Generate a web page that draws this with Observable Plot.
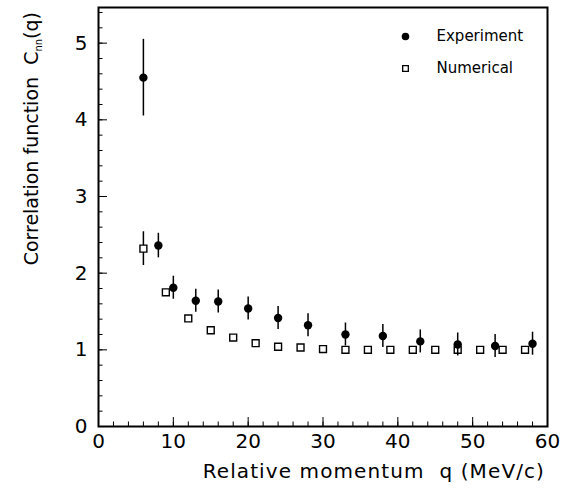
<!DOCTYPE html>
<html>
<head>
<meta charset="utf-8">
<script src="https://cdn.jsdelivr.net/npm/d3@7"></script>
<script src="https://cdn.jsdelivr.net/npm/@observablehq/plot@0.6"></script>
<style>
  body { margin: 0; background: #fff; }
  #chart svg { display: block; }
</style>
</head>
<body>
<div id="chart"></div>
<script>
// Experiment (filled circles)
const expQ   = [6, 8, 10, 13, 16, 20, 24, 28, 33, 38, 43, 48, 53, 58];
const expC   = [4.55, 2.36, 1.81, 1.64, 1.63, 1.54, 1.415, 1.32, 1.20, 1.18, 1.11, 1.07, 1.05, 1.08];
const expErr = [0.50, 0.16, 0.15, 0.15, 0.15, 0.15, 0.15, 0.15, 0.15, 0.15, 0.15, 0.15, 0.15, 0.15];

// Numerical (open squares)
const numQ   = [6, 9, 12, 15, 18, 21, 24, 27, 30, 33, 36, 39, 42, 45, 48, 51, 54, 57];
const numC   = [2.32, 1.75, 1.41, 1.255, 1.16, 1.087, 1.04, 1.03, 1.01, 1.0, 1.0, 1.0, 1.0, 1.0, 1.0, 1.0, 1.0, 1.0];
const numErr = [0.22, 0, 0, 0, 0, 0, 0, 0, 0, 0, 0, 0, 0, 0, 0, 0, 0, 0];

const xMajor = [0, 10, 20, 30, 40, 50, 60];
const xMinor = d3.range(0, 61, 2);
const yMajor = [0, 1, 2, 3, 4, 5];
const yMinor = d3.range(0, 5.41, 0.2);

const legendNames = ["Experiment", "Numerical"];
const xTitle = "Relative momentum  q (MeV/c)";

const exp = expQ.map((q, i) => ({q, c: expC[i], e: expErr[i]}));
const num = numQ.map((q, i) => ({q, c: numC[i], e: numErr[i]}));
const numWithErr = num.filter(d => d.e > 0);

const W = 576, H = 493;
const mL = 98, mR = 29, mT = 7, mB = 67;
const pw = W - mL - mR, ph = H - mT - mB;
const font = "'DejaVu Sans', sans-serif";

const chart = Plot.plot({
  width: W,
  height: H,
  marginLeft: mL,
  marginRight: mR,
  marginTop: mT,
  marginBottom: mB,
  style: {fontFamily: font, background: "#fff", color: "#000"},
  x: {domain: [0, 60]},
  y: {domain: [0, 5.465]},
  marks: [
    Plot.tickX(xMinor, {x: d => d, insetTop: ph - 4.5, stroke: "#000", strokeWidth: 1}),
    Plot.tickX(xMajor, {x: d => d, insetTop: ph - 9, stroke: "#000", strokeWidth: 1}),
    Plot.tickY(yMinor, {y: d => d, insetRight: pw - 4.5, stroke: "#000", strokeWidth: 1}),
    Plot.tickY(yMajor, {y: d => d, insetRight: pw - 9, stroke: "#000", strokeWidth: 1}),
    Plot.axisX({ticks: xMajor, tickSize: 0, tickPadding: 7, fontSize: 20, label: null, tickFormat: d3.format("d")}),
    Plot.axisY({ticks: yMajor, tickSize: 0, tickPadding: 11, fontSize: 20, label: null, tickFormat: d3.format("d")}),
    Plot.ruleX(numWithErr, {x: "q", y1: d => d.c - d.e, y2: d => d.c + d.e, stroke: "#000", strokeWidth: 1.5}),
    Plot.dot(num, {x: "q", y: "c", symbol: "square", r: 3.9, fill: "#fff", stroke: "#000", strokeWidth: 1.4}),
    Plot.ruleX(exp, {x: "q", y1: d => d.c - d.e, y2: d => d.c + d.e, stroke: "#000", strokeWidth: 1.5}),
    Plot.dot(exp, {x: "q", y: "c", r: 4.2, fill: "#000", stroke: "none"}),
    // legend
    Plot.dot([legendNames[0]], {frameAnchor: "top-left", dx: 405 - mL, dy: 36 - mT, r: 3.8, fill: "#000"}),
    Plot.dot([legendNames[1]], {frameAnchor: "top-left", dx: 405 - mL, dy: 68 - mT, symbol: "square", r: 3.2, fill: "#fff", stroke: "#000", strokeWidth: 1.3}),
    Plot.text([legendNames[0]], {frameAnchor: "top-left", text: d => d, dx: 436 - mL, dy: 36 - mT, textAnchor: "start", lineAnchor: "middle", fontSize: 15, fill: "#000"}),
    Plot.text([legendNames[1]], {frameAnchor: "top-left", text: d => d, dx: 436 - mL, dy: 68 - mT, textAnchor: "start", lineAnchor: "middle", fontSize: 15, fill: "#000"}),
    Plot.frame({stroke: "#000", strokeWidth: 2})
  ]
});

document.getElementById("chart").appendChild(chart);

const svg = d3.select(chart);

svg.append("text")
  .attr("x", 545).attr("y", 478)
  .attr("text-anchor", "end")
  .attr("font-family", font).attr("font-size", 20).attr("fill", "#000")
  .attr("letter-spacing", "1.1px")
  .style("white-space", "pre")
  .text(xTitle);

const yt = svg.append("text")
  .attr("transform", "translate(38,12) rotate(-90)")
  .attr("text-anchor", "end")
  .attr("font-family", font).attr("font-size", 19).attr("fill", "#000")
  .style("white-space", "pre");
yt.append("tspan").text("Correlation function  C");
yt.append("tspan").attr("font-size", 10).attr("dy", 4).text("nn");
yt.append("tspan").attr("dy", -4).text("(q)");
</script>
</body>
</html>
